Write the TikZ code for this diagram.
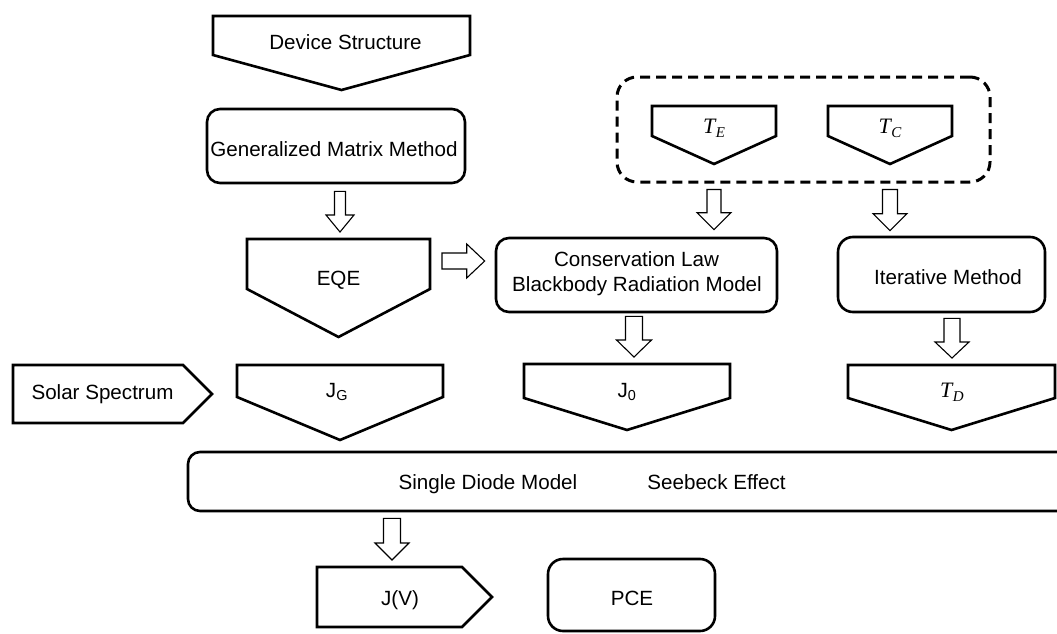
\documentclass[tikz,border=0pt]{standalone}
\usepackage{fontspec}
\setmainfont{Liberation Sans}
\newfontfamily\mvarfont{Liberation Serif}
\usetikzlibrary{calc}
\newcommand\dpent[2]{\draw[shp] (#1.north west) -- (#1.north east) -- (#1.south east) -- ($(#1.south)+(0,#2)$) -- (#1.south west) -- cycle;}
\newcommand\rpent[2]{\draw[shp] (#1.north west) -- (#1.north east) -- ($(#1.east)+(#2,0)$) -- (#1.south east) -- (#1.south west) -- cycle;}
\newcommand\mvar[2]{{\mvarfont\itshape #1\kern0.5pt\raisebox{-4.5pt}{\fontsize{15}{16}\selectfont #2}}}
\begin{document}
\begin{tikzpicture}[x=1pt,y=-1pt,
  shp/.style={draw=black, line width=2.6pt, line join=miter},
  pent/.style={inner sep=0pt, outer sep=0pt},
  rbox/.style={draw=black, line width=2.6pt, rounded corners=13pt, inner sep=0pt},
  grpbox/.style={draw=black, line width=3pt, dash pattern=on 10pt off 6pt, rounded corners=20pt, inner sep=0pt},
  txt/.style={inner sep=0pt, anchor=base, font=\fontsize{20.6}{25}\selectfont},
  mtxt/.style={inner sep=0pt, anchor=base, font=\fontsize{22}{24}\selectfont},
  dblk/.style n args={3}{/utils/exec={\def\bsw{#1pt}\def\bhw{#2pt}\def\bhl{#3pt}},
    draw=black, line width=1.1pt, fill=white, line join=miter,
    to path={let \p1=(\tikztostart), \p2=(\tikztotarget) in
      (\x1-\bsw,\y1) -- (\x1-\bsw,\y2+\bhl) -- (\x1-\bhw,\y2+\bhl) -- (\x1,\y2)
      -- (\x1+\bhw,\y2+\bhl) -- (\x1+\bsw,\y2+\bhl) -- (\x1+\bsw,\y1) -- cycle}},
  rblk/.style n args={3}{/utils/exec={\def\bsw{#1pt}\def\bhw{#2pt}\def\bhl{#3pt}},
    draw=black, line width=1.1pt, fill=white, line join=miter,
    to path={let \p1=(\tikztostart), \p2=(\tikztotarget) in
      (\x1,\y1+\bsw) -- (\x2-\bhl,\y1+\bsw) -- (\x2-\bhl,\y1+\bhw) -- (\x2,\y1)
      -- (\x2-\bhl,\y1-\bhw) -- (\x2-\bhl,\y1-\bsw) -- (\x1,\y1-\bsw) -- cycle}}
]
\useasboundingbox (0,0) rectangle (1057,634);

% shapes
\node[pent, minimum width=257pt, minimum height=39pt] (ds) at (341.5,35.5) {};
\dpent{ds}{35}
\node[txt] (dst) at (345.5,50) {Device Structure};

\node[rbox, minimum width=258pt, minimum height=74pt] (gmm) at (336,146) {};
\node[txt] (gmmt) at (334,156) {Generalized Matrix Method};

\node[pent, minimum width=183pt, minimum height=50pt] (eqe) at (338.5,264) {};
\dpent{eqe}{48}
\node[txt] (eqet) at (338.5,285) {EQE};

\node[grpbox, minimum width=373pt, minimum height=105pt] (grp) at (803.5,129.5) {};
\node[pent, minimum width=124pt, minimum height=30pt] (te) at (714,121) {};
\dpent{te}{28}
\node[mtxt] (tet) at (714,133) {\mvar{T}{E}};
\node[pent, minimum width=124pt, minimum height=30pt] (tc) at (890,121) {};
\dpent{tc}{28}
\node[mtxt] (tct) at (890,133) {\mvar{T}{C}};

\node[rbox, minimum width=281pt, minimum height=74pt] (cons) at (636.5,275) {};
\node[txt] (cons1) at (636.5,266) {Conservation Law};
\node[txt] (cons2) at (637,291) {Blackbody Radiation Model};

\node[rbox, rounded corners=15pt, minimum width=207pt, minimum height=75pt] (iter) at (941.5,274.5) {};
\node[txt] (itert) at (948,284) {Iterative Method};

\node[pent, minimum width=170pt, minimum height=58pt] (sol) at (98,394) {};
\rpent{sol}{29}
\node[txt] (solt) at (102.5,399) {Solar Spectrum};

\node[pent, minimum width=206pt, minimum height=32pt] (jg) at (340,381) {};
\dpent{jg}{43}
\node[txt] (jgt) at (337,397) {J\textsubscript{G}};

\node[pent, minimum width=206pt, minimum height=34pt] (jz) at (627,381) {};
\dpent{jz}{32}
\node[txt] (jzt) at (627,397) {J\textsubscript{0}};

\node[pent, minimum width=207pt, minimum height=33pt] (td) at (951.5,381.5) {};
\dpent{td}{32}
\node[mtxt] (tdt) at (952,397) {\mvar{T}{D}};

\node[rbox, rounded corners=12pt, minimum width=887pt, minimum height=59pt] (sdm) at (631.5,481.5) {};
\node[txt] (sdmt) at (488,489) {Single Diode Model};
\node[txt] (sbt) at (716.5,489) {Seebeck Effect};

\node[pent, minimum width=145pt, minimum height=60pt] (jv) at (389.5,597) {};
\rpent{jv}{30}
\node[txt] (jvt) at (400,605) {J(V)};

\node[rbox, rounded corners=15pt, minimum width=167pt, minimum height=72pt] (pce) at (631.5,595) {};
\node[txt] (pcet) at (632,605) {PCE};

% block arrows
\draw[dblk={5.5}{14}{17}] ($(gmm.south)+(4,7)$) to ($(eqe.north)+(0,-7)$);
\draw[rblk={8}{17}{18}] ($(eqe.east)+(12,-3)$) to ($(cons.west)+(-10,0)$);
\draw[dblk={7}{17}{17}] ($(te.south |- grp.south)+(0,6)$) to ($(cons.north)+(0,-7)$);
\draw[dblk={7.5}{17}{17}] ($(tc.south |- grp.south)+(0,6)$) to ($(iter.north)+(0,-5)$);
\draw[dblk={8.5}{17.5}{17}] ($(cons.south)+(-2.5,3)$) to ($(jz.north)+(0,-7)$);
\draw[dblk={8}{17}{16}] ($(iter.south)+(10.5,5)$) to ($(td.north)+(0,-7)$);
\draw[dblk={8.5}{17}{17}] ($(sdm.south -| jv.center)+(2.5,6)$) to ($(jv.north)+(0,-7)$);
\end{tikzpicture}
\end{document}
